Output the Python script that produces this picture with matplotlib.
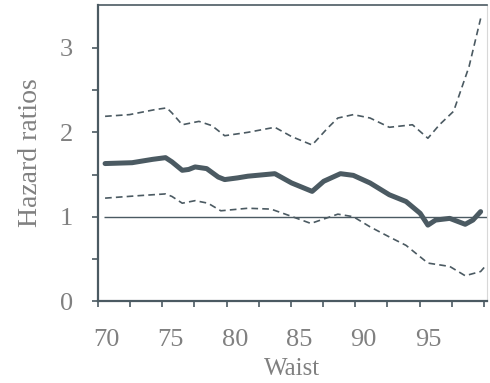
import matplotlib
matplotlib.use("Agg")
import matplotlib.pyplot as plt

# Hazard ratio estimate and 95% band
waist_hr = [69.9, 72.0, 73.6, 74.6, 75.1, 75.9, 76.4, 76.9, 77.8, 78.7, 79.2, 80.2,
            81.0, 83.1, 84.4, 86.0, 86.9, 88.2, 89.2, 90.5, 92.0, 93.3, 94.4, 95.0,
            95.6, 96.7, 97.9, 98.5, 99.1]
hr = [1.63, 1.64, 1.68, 1.70, 1.65, 1.55, 1.56, 1.59, 1.57, 1.47, 1.44, 1.46,
      1.48, 1.51, 1.40, 1.30, 1.42, 1.51, 1.49, 1.40, 1.26, 1.18, 1.04, 0.90,
      0.96, 0.98, 0.91, 0.96, 1.06]

waist_up = [69.9, 71.8, 73.8, 74.7, 75.1, 75.9, 77.2, 78.2, 79.2, 81.0, 83.1, 84.4,
            86.0, 87.2, 88.0, 89.2, 90.5, 92.0, 93.8, 95.0, 95.9, 97.0, 98.2, 99.1]
upper = [2.19, 2.21, 2.27, 2.29, 2.23, 2.09, 2.13, 2.08, 1.96, 2.00, 2.06, 1.95,
         1.85, 2.05, 2.17, 2.21, 2.17, 2.06, 2.09, 1.93, 2.09, 2.25, 2.78, 3.35]

waist_lo = [69.9, 72.6, 74.6, 75.1, 75.9, 76.9, 77.9, 78.9, 81.0, 82.8, 84.1, 85.9,
            88.0, 89.2, 90.5, 92.0, 93.3, 95.0, 96.7, 97.9, 99.1, 99.5]
lower = [1.22, 1.25, 1.27, 1.24, 1.16, 1.19, 1.16, 1.07, 1.10, 1.09, 1.02, 0.92,
         1.03, 1.00, 0.88, 0.76, 0.66, 0.45, 0.41, 0.30, 0.35, 0.42]

x_labels = [70, 75, 80, 85, 90, 95]
y_labels = [0, 1, 2, 3]

plt.rcParams['font.family'] = ['Liberation Serif', 'DejaVu Serif']
grey = '#808080'
line_col = '#4b5a62'

fig = plt.figure(figsize=(4.9, 3.83), dpi=100)
ax = fig.add_axes([0.2, 0.214, 0.794, 0.773])

ax.plot(waist_hr, hr, color=line_col, linewidth=3.6, solid_capstyle='round',
        solid_joinstyle='round')
ax.plot(waist_up, upper, color=line_col, linewidth=1.2, linestyle=(0, (4, 2.5)))
ax.plot(waist_lo, lower, color=line_col, linewidth=1.2, linestyle=(0, (4, 2.5)))
ax.hlines(1, 69.8, 99.6, color=line_col, linewidth=1.0)

ax.set_xlim(69.35, 99.6)
ax.set_ylim(0, 3.51)

# labels sit a little to the right of the drawn ticks in the original
ax.set_xticks(x_labels)
ax.set_xticklabels([str(v) for v in x_labels])
ax.tick_params(axis='x', which='major', length=0, pad=20)
ax.set_xticks([69.35 + 2.5 * k for k in range(13)], minor=True)
ax.tick_params(axis='x', which='minor', length=4, width=1.2, color=line_col)

ax.set_yticks(y_labels)
ax.set_yticks([0.5, 1.5, 2.5], minor=True)
ax.tick_params(axis='y', which='both', length=4, width=1.2, color=line_col, pad=14)

ax.tick_params(labelsize=19, labelcolor=grey)
ax.set_xlabel("Waist", fontsize=18, color=grey, labelpad=5)
ax.set_ylabel("Hazard ratios", fontsize=20, color=grey, labelpad=12)

for side in ['left', 'bottom']:
    ax.spines[side].set_color(line_col)
    ax.spines[side].set_linewidth(1.6)
ax.spines['top'].set_color(line_col)
ax.spines['top'].set_linewidth(1.2)
ax.spines['right'].set_color('#d8d8d8')
ax.spines['right'].set_linewidth(0.8)

fig.savefig("out.png", dpi=100)
